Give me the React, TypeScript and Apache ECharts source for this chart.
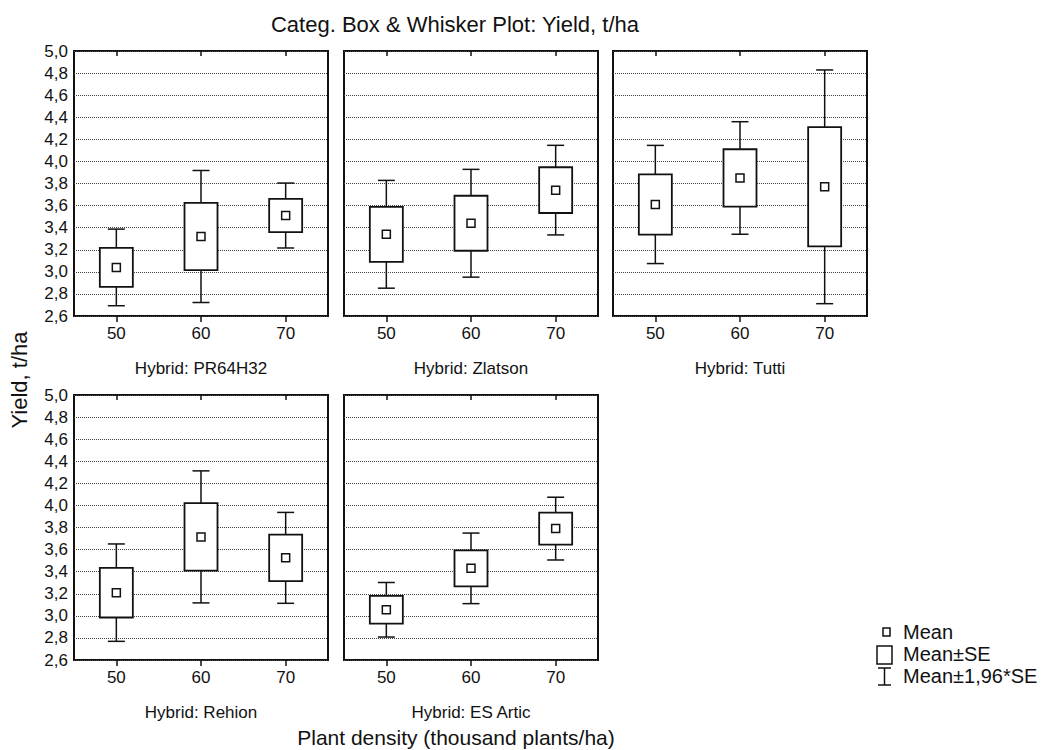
import React, { useEffect, useRef } from 'react';
import * as echarts from 'echarts';

const hybrids = ['PR64H32', 'Zlatson', 'Tutti', 'Rehion', 'ES Artic'];
const densities = ['50', '60', '70'];

// Mean yield (t/ha) per density, one array per hybrid
const meanPR64H32 = [3.04, 3.32, 3.51];
const meanZlatson = [3.34, 3.44, 3.74];
const meanTutti = [3.61, 3.85, 3.77];
const meanRehion = [3.21, 3.715, 3.525];
const meanESArtic = [3.055, 3.43, 3.79];

// Standard error per density, one array per hybrid
const sePR64H32 = [0.177, 0.305, 0.15];
const seZlatson = [0.249, 0.249, 0.207];
const seTutti = [0.273, 0.26, 0.54];
const seRehion = [0.225, 0.305, 0.21];
const seESArtic = [0.126, 0.163, 0.145];

const CI_FACTOR = 1.96;
const yMin = 2.6;
const yMax = 5.0;
const yStep = 0.2;

const means = [meanPR64H32, meanZlatson, meanTutti, meanRehion, meanESArtic];
const ses = [sePR64H32, seZlatson, seTutti, seRehion, seESArtic];

const FONT = '"Liberation Sans", Arial, Helvetica, sans-serif';

const gridPos = [
  { left: 74, top: 51 },
  { left: 344, top: 51 },
  { left: 613, top: 51 },
  { left: 74, top: 395 },
  { left: 344, top: 395 },
];

const renderBox = (params: any, api: any) => {
  const i = api.value(0);
  const m = api.value(1);
  const se = api.value(2);
  const [x, yM] = api.coord([i, m]);
  const ySeHi = api.coord([i, m + se])[1];
  const ySeLo = api.coord([i, m - se])[1];
  const yCiHi = api.coord([i, m + CI_FACTOR * se])[1];
  const yCiLo = api.coord([i, m - CI_FACTOR * se])[1];
  const bw = 33;
  const cw = 17;
  const mw = 8;
  const st = { stroke: '#111', lineWidth: 1.5 };
  return {
    type: 'group',
    children: [
      { type: 'line', shape: { x1: x, y1: yCiHi, x2: x, y2: ySeHi }, style: st },
      { type: 'line', shape: { x1: x, y1: ySeLo, x2: x, y2: yCiLo }, style: st },
      { type: 'line', shape: { x1: x - cw / 2, y1: yCiHi, x2: x + cw / 2, y2: yCiHi }, style: st },
      { type: 'line', shape: { x1: x - cw / 2, y1: yCiLo, x2: x + cw / 2, y2: yCiLo }, style: st },
      {
        type: 'rect',
        shape: { x: x - bw / 2, y: ySeHi, width: bw, height: ySeLo - ySeHi },
        style: { fill: '#fff', stroke: '#111', lineWidth: 1.8 },
      },
      {
        type: 'rect',
        shape: { x: x - mw / 2, y: yM - mw / 2, width: mw, height: mw },
        style: { fill: '#fff', stroke: '#111', lineWidth: 1.5 },
      },
    ],
  };
};

export default function App() {
  const ref = useRef<HTMLDivElement>(null);

  useEffect(() => {
    document.body.style.margin = '0';
    if (!ref.current) return;
    const chart = echarts.init(ref.current, null, { renderer: 'svg' });

    const grid: any[] = [];
    const xAxis: any[] = [];
    const yAxis: any[] = [];
    const series: any[] = [];

    hybrids.forEach((h, k) => {
      grid.push({
        left: gridPos[k].left,
        top: gridPos[k].top,
        width: 254,
        height: 265,
        show: true,
        borderColor: '#111',
        borderWidth: 2,
        backgroundColor: 'transparent',
      });
      xAxis.push({
        type: 'category',
        gridIndex: k,
        data: densities,
        position: 'bottom',
        boundaryGap: true,
        name: 'Hybrid: ' + h,
        nameLocation: 'middle',
        nameGap: 44,
        nameTextStyle: { fontFamily: FONT, fontSize: 17, color: '#111' },
        axisLine: { show: false },
        axisTick: { show: true, alignWithLabel: true, inside: false, length: 6, lineStyle: { color: '#111', width: 1.5 } },
        axisLabel: { fontFamily: FONT, fontSize: 17, color: '#111', margin: 9 },
        splitLine: { show: false },
      });
      xAxis.push({
        type: 'category',
        gridIndex: k,
        data: densities,
        position: 'top',
        boundaryGap: true,
        axisLine: { show: false },
        axisTick: { show: true, alignWithLabel: true, inside: true, length: 5, lineStyle: { color: '#111', width: 1.5 } },
        axisLabel: { show: false },
        splitLine: { show: false },
      });
      const showLabels = k === 0 || k === 3;
      yAxis.push({
        type: 'value',
        gridIndex: k,
        min: yMin,
        max: yMax,
        interval: yStep,
        axisLine: { show: false },
        axisTick: { show: false },
        axisLabel: {
          show: showLabels,
          fontFamily: FONT,
          fontSize: 17,
          color: '#111',
          margin: 6,
          formatter: (v: number) => v.toFixed(1).replace('.', ','),
        },
        splitLine: { show: true, lineStyle: { type: [1, 1], color: '#444', width: 1 } },
      });
      series.push({
        type: 'custom',
        xAxisIndex: k * 2,
        yAxisIndex: k,
        renderItem: renderBox,
        encode: { x: 0, y: 1 },
        data: densities.map((_, i) => [i, means[k][i], ses[k][i]]),
        z: 5,
      });
    });

    const legendTextStyle = { fontFamily: FONT, fontSize: 20, fill: '#111', verticalAlign: 'middle' };

    chart.setOption({
      animation: false,
      backgroundColor: '#fff',
      title: {
        text: 'Categ. Box & Whisker Plot: Yield, t/ha',
        left: 450,
        top: 8,
        textAlign: 'center',
        textStyle: { fontFamily: FONT, fontSize: 22, fontWeight: 'normal', color: '#111' },
      },
      grid,
      xAxis,
      yAxis,
      series,
      graphic: [
        {
          type: 'text',
          x: 19,
          y: 380,
          rotation: Math.PI / 2,
          style: { text: 'Yield, t/ha', fontFamily: FONT, fontSize: 22, fill: '#111', align: 'center', verticalAlign: 'middle' },
        },
        {
          type: 'text',
          x: 456,
          y: 737,
          style: { text: 'Plant density (thousand plants/ha)', fontFamily: FONT, fontSize: 21, fill: '#111', align: 'center', verticalAlign: 'middle' },
        },
        {
          type: 'rect',
          shape: { x: 883, y: 628, width: 7, height: 8 },
          style: { fill: '#fff', stroke: '#111', lineWidth: 1.5 },
        },
        { type: 'text', x: 903, y: 632, style: { text: 'Mean', ...legendTextStyle } },
        {
          type: 'rect',
          shape: { x: 877, y: 646, width: 15, height: 18 },
          style: { fill: '#fff', stroke: '#111', lineWidth: 1.5 },
        },
        { type: 'text', x: 903, y: 654, style: { text: 'Mean±SE', ...legendTextStyle } },
        { type: 'line', shape: { x1: 884.5, y1: 668, x2: 884.5, y2: 685 }, style: { stroke: '#111', lineWidth: 1.5 } },
        { type: 'line', shape: { x1: 878, y1: 668, x2: 891, y2: 668 }, style: { stroke: '#111', lineWidth: 1.5 } },
        { type: 'line', shape: { x1: 878, y1: 685, x2: 891, y2: 685 }, style: { stroke: '#111', lineWidth: 1.5 } },
        { type: 'text', x: 903, y: 676, style: { text: 'Mean±1,96*SE', ...legendTextStyle } },
      ],
    });

    return () => chart.dispose();
  }, []);

  return <div ref={ref} style={{ width: 1055, height: 750 }} />;
}
